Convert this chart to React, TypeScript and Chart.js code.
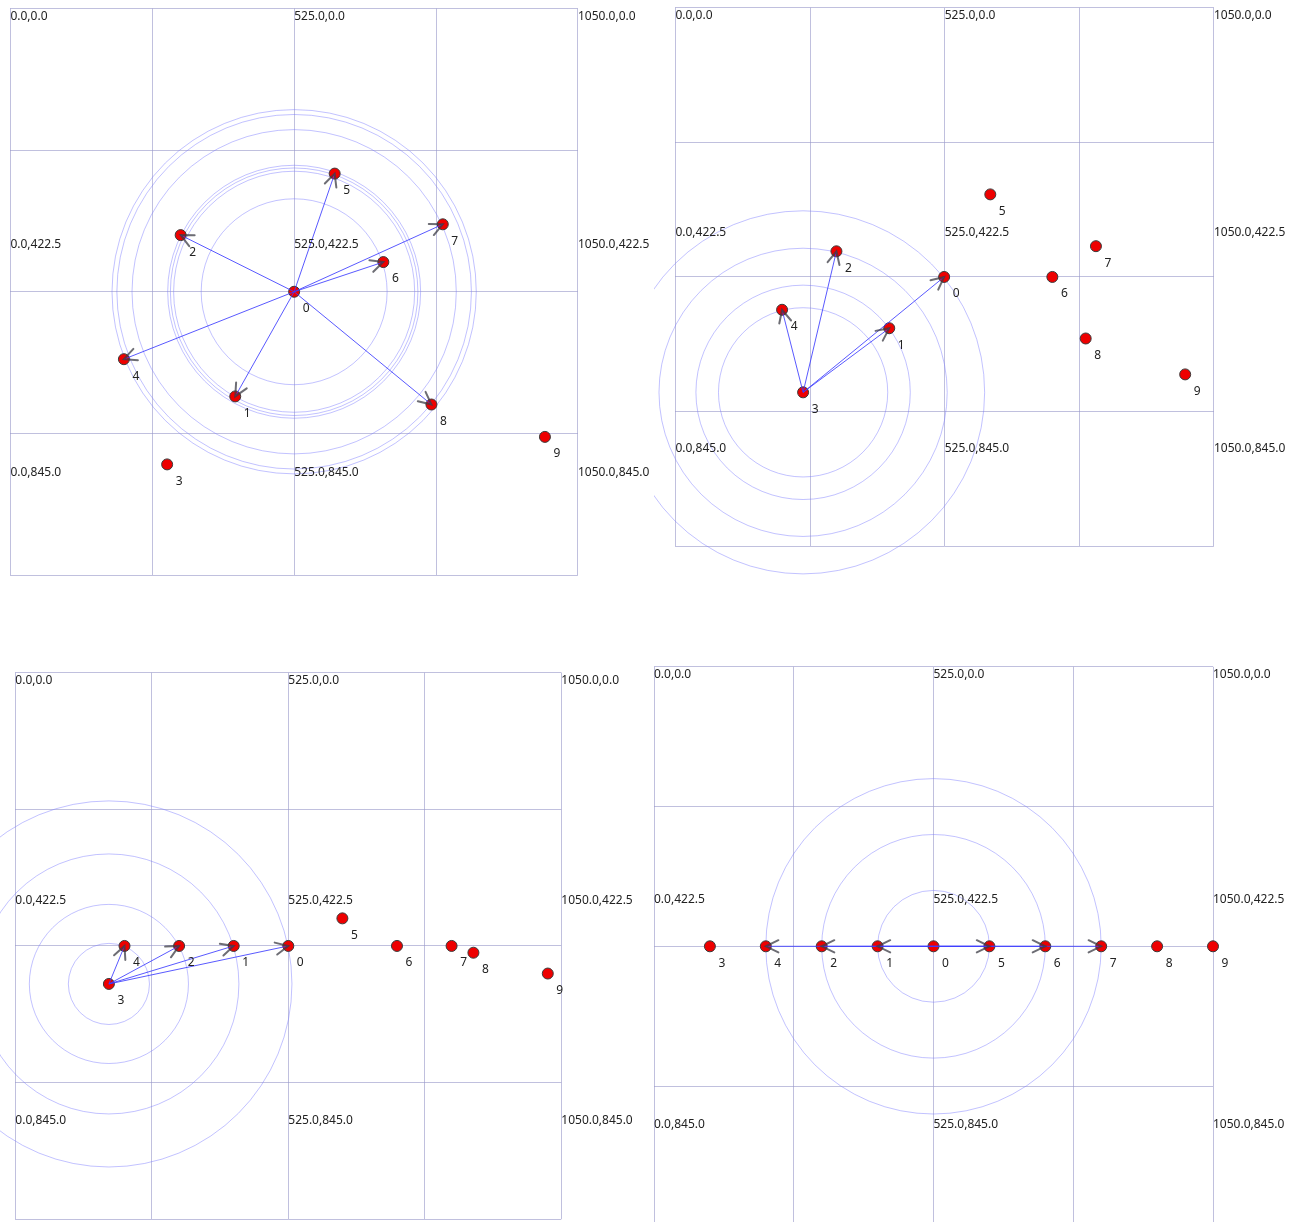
import { useEffect, useRef } from 'react';
import { Chart, registerables } from 'chart.js';

Chart.register(...registerables);

// ---- shared axis / label values ----
const NODE_IDS = ['0', '1', '2', '3', '4', '5', '6', '7', '8', '9'];
const AXIS_MAX = 1050;
const GRID_STEP = 262.5;
const CORNER_X = [0, 525, 1050];
const CORNER_Y = [0, 422.5, 845];

// ---- layout 1: star around node 0 ----
const P1_X = [525, 416, 315, 290, 210, 600, 690, 800, 779, 989];
const P1_Y = [525, 719, 420, 845, 650, 306, 470, 400, 734, 794];
const P1_EDGES = [[0, 1], [0, 2], [0, 4], [0, 5], [0, 6], [0, 7], [0, 8]];
const P1_HUB = 0;
const P1_RINGS = [172, 223, 229, 234, 300, 328, 337];

// ---- layout 2: node 3 pulling its neighbours ----
const P2_X = [524, 417, 314, 249, 208, 614, 735, 820, 800, 994];
const P2_Y = [525, 625, 475, 750, 589, 364, 525, 465, 645, 715];
const P2_EDGES = [[3, 4], [3, 2], [3, 1], [3, 0]];
const P2_HUB = 3;
const P2_RINGS = [165, 209, 281, 354];

// ---- layout 3: neighbours of node 3 on the middle line ----
const P3_X = [525, 420, 315, 180, 210, 629, 734, 839, 881, 1024];
const P3_Y = [525, 525, 525, 598, 525, 472, 525, 525, 538, 578];
const P3_EDGES = [[3, 4], [3, 2], [3, 1], [3, 0]];
const P3_HUB = 3;
const P3_RINGS = [78, 153, 250, 352];

// ---- layout 4: all nodes on one line ----
const P4_X = [525, 420, 315, 105, 210, 630, 735, 840, 945, 1050];
const P4_Y = [525, 525, 525, 525, 525, 525, 525, 525, 525, 525];
const P4_EDGES = [[0, 1], [0, 2], [0, 4], [0, 5], [0, 6], [0, 7]];
const P4_HUB = 0;
const P4_RINGS = [105, 210, 315];

// ---- styles ----
const GRID_COLOR = 'rgba(150,150,200,0.6)';
const RING_COLOR = 'rgba(120,120,255,0.45)';
const EDGE_COLOR = 'rgba(60,60,255,0.85)';
const HEAD_COLOR = 'rgba(60,60,70,0.75)';
const NODE_FILL = '#ee0000';
const NODE_STROKE = '#3a3a3a';
const TEXT_COLOR = '#222222';
const FONT = '12px "Noto Sans", "Open Sans", sans-serif';

type Layout = { left: number; top: number; w: number; h: number; pad: { left: number; top: number; right: number; bottom: number } };

const PANEL_LAYOUTS: Layout[] = [
  { left: 0, top: 0, w: 654, h: 625, pad: { left: 10.4, top: 8.5, right: 76.1, bottom: 50 } },
  { left: 654, top: 0, w: 638, h: 625, pad: { left: 21.4, top: 7.7, right: 78.1, bottom: 78.8 } },
  { left: 0, top: 638, w: 650, h: 584, pad: { left: 15.3, top: 34.7, right: 88.7, bottom: 2.8 } },
  { left: 645, top: 638, w: 647, h: 600, pad: { left: 9, top: 28.8, right: 79, bottom: 12.2 } },
];

type PanelProps = {
  layout: Layout;
  xs: number[];
  ys: number[];
  edges: number[][];
  hub: number;
  rings: number[];
};

function GraphPanel({ layout, xs, ys, edges, hub, rings }: PanelProps) {
  const ref = useRef<HTMLCanvasElement>(null);

  useEffect(() => {
    const canvas = ref.current;
    if (!canvas) return;
    const nodePoints = xs.map((x, i) => ({ x, y: ys[i] }));

    const nodeSet: any = {
      data: nodePoints,
      showLine: false,
      pointRadius: 5.5,
      pointHoverRadius: 5.5,
      pointBackgroundColor: NODE_FILL,
      pointBorderColor: NODE_STROKE,
      pointBorderWidth: 1,
      order: 2,
      clip: false,
    };
    const edgeSets: any[] = edges.map(([s, t]) => ({
      data: [nodePoints[s], nodePoints[t]],
      showLine: true,
      borderColor: EDGE_COLOR,
      borderWidth: 1,
      pointRadius: 0,
      pointHoverRadius: 0,
      tension: 0,
      fill: false,
      order: 1,
      clip: false,
    }));

    const decor = {
      id: 'graphDecor',
      beforeDatasetsDraw(chart: any) {
        const ctx = chart.ctx;
        const xScale = chart.scales.x;
        const centre = chart.getDatasetMeta(0).data[hub];
        ctx.save();
        ctx.strokeStyle = RING_COLOR;
        ctx.lineWidth = 1;
        rings.forEach((r) => {
          const rp = xScale.getPixelForValue(r) - xScale.getPixelForValue(0);
          ctx.beginPath();
          ctx.arc(centre.x, centre.y, rp, 0, Math.PI * 2);
          ctx.stroke();
        });
        ctx.restore();
      },
      afterDatasetsDraw(chart: any) {
        const ctx = chart.ctx;
        const xScale = chart.scales.x;
        const yScale = chart.scales.y;
        ctx.save();
        // open arrow heads at the target end of each edge
        ctx.strokeStyle = HEAD_COLOR;
        ctx.lineWidth = 2;
        ctx.lineCap = 'round';
        const len = 14;
        const spread = 0.45;
        edges.forEach((_, k) => {
          const pts = chart.getDatasetMeta(k + 1).data;
          const a = pts[0];
          const b = pts[1];
          const ang = Math.atan2(b.y - a.y, b.x - a.x);
          ctx.beginPath();
          ctx.moveTo(b.x - len * Math.cos(ang - spread), b.y - len * Math.sin(ang - spread));
          ctx.lineTo(b.x, b.y);
          ctx.lineTo(b.x - len * Math.cos(ang + spread), b.y - len * Math.sin(ang + spread));
          ctx.stroke();
        });
        // node ids
        ctx.fillStyle = TEXT_COLOR;
        ctx.font = FONT;
        ctx.textAlign = 'center';
        ctx.textBaseline = 'middle';
        chart.getDatasetMeta(0).data.forEach((p: any, i: number) => {
          ctx.fillText(NODE_IDS[i], p.x + 12, p.y + 17);
        });
        // coordinate labels
        ctx.textAlign = 'left';
        CORNER_X.forEach((cx) => {
          CORNER_Y.forEach((cy) => {
            const px = xScale.getPixelForValue(cx);
            const py = yScale.getPixelForValue(cy);
            ctx.fillText(`${cx.toFixed(1)},${cy.toFixed(1)}`, px, py + 8);
          });
        });
        ctx.restore();
      },
    };

    const axis = (reverse: boolean) => ({
      type: 'linear' as const,
      min: 0,
      max: AXIS_MAX,
      reverse,
      ticks: { display: false, stepSize: GRID_STEP },
      grid: { color: GRID_COLOR, lineWidth: 1, drawTicks: false },
      border: { display: false },
    });

    const chart = new Chart(canvas, {
      type: 'scatter',
      data: { datasets: [nodeSet, ...edgeSets] },
      options: {
        animation: false,
        responsive: false,
        events: [],
        layout: { padding: layout.pad, autoPadding: false },
        scales: { x: axis(false), y: axis(true) },
        plugins: { legend: { display: false }, tooltip: { enabled: false } },
      } as any,
      plugins: [decor],
    });
    return () => chart.destroy();
  }, []);

  return (
    <canvas
      ref={ref}
      width={layout.w}
      height={layout.h}
      style={{ position: 'absolute', left: layout.left, top: layout.top, width: layout.w, height: layout.h }}
    />
  );
}

export default function App() {
  return (
    <div style={{ position: 'absolute', left: 0, top: 0, width: 1292, height: 1222, overflow: 'hidden', background: '#ffffff' }}>
      <GraphPanel layout={PANEL_LAYOUTS[0]} xs={P1_X} ys={P1_Y} edges={P1_EDGES} hub={P1_HUB} rings={P1_RINGS} />
      <GraphPanel layout={PANEL_LAYOUTS[1]} xs={P2_X} ys={P2_Y} edges={P2_EDGES} hub={P2_HUB} rings={P2_RINGS} />
      <GraphPanel layout={PANEL_LAYOUTS[2]} xs={P3_X} ys={P3_Y} edges={P3_EDGES} hub={P3_HUB} rings={P3_RINGS} />
      <GraphPanel layout={PANEL_LAYOUTS[3]} xs={P4_X} ys={P4_Y} edges={P4_EDGES} hub={P4_HUB} rings={P4_RINGS} />
    </div>
  );
}
